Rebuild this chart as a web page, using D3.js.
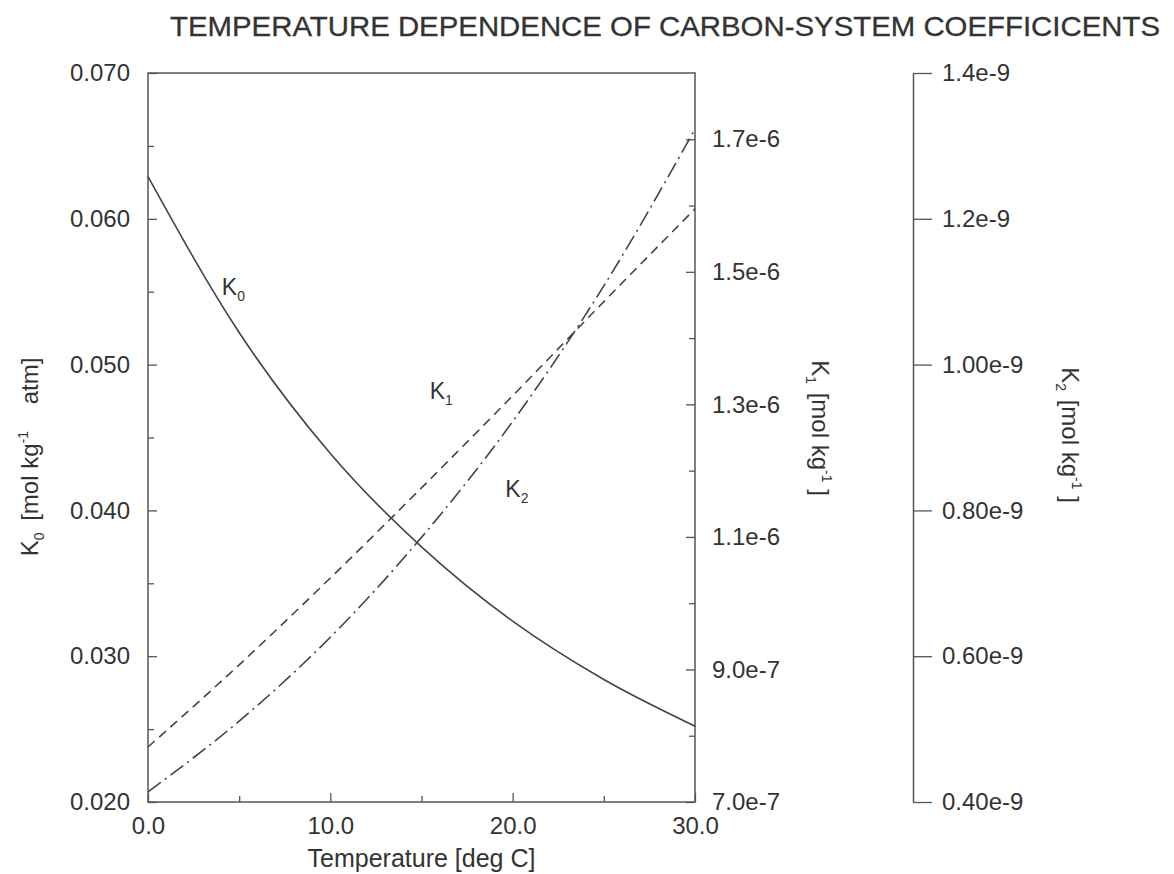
<!DOCTYPE html>
<html>
<head>
<meta charset="utf-8">
<script src="https://cdn.jsdelivr.net/npm/d3@7/dist/d3.min.js"></script>
<style>
  html, body { margin: 0; padding: 0; background: #fff; }
  svg { display: block; }
  text { font-family: "Liberation Sans", Arial, Helvetica, sans-serif; fill: #333; }
</style>
</head>
<body>
<svg id="chart" width="1174" height="874"></svg>
<script>
// ---- data ----
const temperature = [0, 5, 10, 15, 20, 25, 30];
const k0Values = [0.0629, 0.0522, 0.0439, 0.0375, 0.0324, 0.0284, 0.0252];
const k1Values = [7.83e-7, 9.07e-7, 1.038e-6, 1.174e-6, 1.313e-6, 1.455e-6, 1.595e-6];
const k2Values = [0.414e-9, 0.511e-9, 0.626e-9, 0.763e-9, 0.922e-9, 1.108e-9, 1.323e-9];

const xTicks = [0, 10, 20, 30];
const xMinorTicks = [5, 15, 25];
const k0Ticks = [0.020, 0.030, 0.040, 0.050, 0.060, 0.070];
const k0MinorTicks = [0.025, 0.035, 0.045, 0.055, 0.065];
const k1Ticks = [7e-7, 9e-7, 1.1e-6, 1.3e-6, 1.5e-6, 1.7e-6];
const k1MinorTicks = [8e-7, 1.0e-6, 1.2e-6, 1.4e-6, 1.6e-6];
const k2Ticks = [0.4e-9, 0.6e-9, 0.8e-9, 1.0e-9, 1.2e-9, 1.4e-9];
const k2TickLabels = ["0.40e-9", "0.60e-9", "0.80e-9", "1.00e-9", "1.2e-9", "1.4e-9"];

const titleText = "TEMPERATURE DEPENDENCE OF CARBON-SYSTEM COEFFICICENTS";

// ---- layout ----
const L = 148, R = 695, T = 73, B = 802, K2X = 913;
const axisColor = "#555";
const lineColor = "#444";
const tickFont = "24px";

const svg = d3.select("#chart");

const x = d3.scaleLinear().domain([0, 30]).range([L, R]);
const y0 = d3.scaleLinear().domain([0.02, 0.07]).range([B, T]);
const y1 = d3.scaleLinear().domain([7e-7, 1.8e-6]).range([B, T]);
const y2 = d3.scaleLinear().domain([0.4e-9, 1.4e-9]).range([B, T]);

// title
svg.append("text")
  .attr("x", 170).attr("y", 36)
  .attr("textLength", 990).attr("lengthAdjust", "spacingAndGlyphs")
  .style("font-size", "28px")
  .style("stroke", "#333").style("stroke-width", 0.3)
  .text(titleText);

function styleAxis(g) {
  g.select(".domain").remove();
  g.selectAll(".tick line").attr("stroke", axisColor).attr("stroke-width", 1.3);
  g.selectAll(".tick text").style("font-size", tickFont).attr("fill", "#333").style("font-family", "Liberation Sans, Arial, sans-serif");
}

// bottom axis
svg.append("g").attr("transform", `translate(0,${B})`)
  .call(d3.axisBottom(x).tickValues(xTicks).tickFormat(d3.format(".1f")).tickSize(-9).tickPadding(15))
  .call(styleAxis);
svg.append("g").attr("transform", `translate(0,${B})`)
  .call(d3.axisBottom(x).tickValues(xMinorTicks).tickFormat("").tickSize(-6))
  .call(styleAxis);

// left axis
svg.append("g").attr("transform", `translate(${L},0)`)
  .call(d3.axisLeft(y0).tickValues(k0Ticks).tickFormat(d3.format(".3f")).tickSize(-9).tickPadding(18))
  .call(styleAxis);
svg.append("g").attr("transform", `translate(${L},0)`)
  .call(d3.axisLeft(y0).tickValues(k0MinorTicks).tickFormat("").tickSize(-6))
  .call(styleAxis);

// right axis (K1)
svg.append("g").attr("transform", `translate(${R},0)`)
  .call(d3.axisRight(y1).tickValues(k1Ticks).tickFormat(d => d.toExponential(1)).tickSize(-9).tickPadding(17))
  .call(styleAxis);
svg.append("g").attr("transform", `translate(${R},0)`)
  .call(d3.axisRight(y1).tickValues(k1MinorTicks).tickFormat("").tickSize(-6))
  .call(styleAxis);

// separate K2 axis
const k2Axis = svg.append("g").attr("transform", `translate(${K2X},0)`)
  .call(d3.axisRight(y2).tickValues(k2Ticks).tickFormat((d, i) => k2TickLabels[i]).tickSize(19).tickPadding(10).tickSizeOuter(0));
k2Axis.select(".domain").attr("stroke", axisColor).attr("stroke-width", 1.5);
k2Axis.selectAll(".tick line").attr("stroke", axisColor).attr("stroke-width", 1.3);
k2Axis.selectAll(".tick text").style("font-size", tickFont).attr("fill", "#333").style("font-family", "Liberation Sans, Arial, sans-serif");

// frame
svg.append("rect")
  .attr("x", L).attr("y", T).attr("width", R - L).attr("height", B - T)
  .attr("fill", "none").attr("stroke", axisColor).attr("stroke-width", 1.5);

// curves
const makeLine = (ys, vals) => d3.line()
  .x((d, i) => x(temperature[i]))
  .y((d, i) => ys(vals[i]))
  .curve(d3.curveMonotoneX);

svg.append("path").datum(k0Values)
  .attr("d", makeLine(y0, k0Values))
  .attr("fill", "none").attr("stroke", lineColor).attr("stroke-width", 1.6);
svg.append("path").datum(k1Values)
  .attr("d", makeLine(y1, k1Values))
  .attr("fill", "none").attr("stroke", lineColor).attr("stroke-width", 1.6)
  .attr("stroke-dasharray", "9,6");
svg.append("path").datum(k2Values)
  .attr("d", makeLine(y2, k2Values))
  .attr("fill", "none").attr("stroke", lineColor).attr("stroke-width", 1.6)
  .attr("stroke-dasharray", "16,5,2,5");

// curve labels
function kLabel(px, py, sub) {
  const t = svg.append("text").attr("x", px).attr("y", py).style("font-size", "23px");
  t.append("tspan").text("K");
  t.append("tspan").attr("dy", 6).style("font-size", "14px").text(sub);
}
kLabel(x(4.05), 295, "0");
kLabel(x(15.45), 399, "1");
kLabel(x(19.6), 497, "2");

// axis titles
function axisTitle(px, py, rot, sub, gapBefore, extra) {
  const t = svg.append("text")
    .attr("transform", `translate(${px},${py}) rotate(${rot})`)
    .attr("text-anchor", "middle")
    .style("font-size", "24px");
  t.append("tspan").text("K");
  t.append("tspan").attr("dy", 6).style("font-size", "14px").text(sub);
  t.append("tspan").attr("dy", -6).attr("dx", gapBefore).text(" [mol kg");
  t.append("tspan").attr("dy", -10).style("font-size", "14px").text("-1");
  t.append("tspan").attr("dy", 10).text(extra + "]");
}
axisTitle(38, 457, -90, "0", 5, "\u00a0\u00a0\u00a0\u00a0atm");
axisTitle(812, 428, 90, "1", 2, "\u00a0");
axisTitle(1062, 435, 90, "2", 2, "\u00a0");

// x title
svg.append("text")
  .attr("x", x(15)).attr("y", 867)
  .attr("text-anchor", "middle")
  .style("font-size", "25px")
  .text("Temperature [deg C]");
</script>
</body>
</html>
